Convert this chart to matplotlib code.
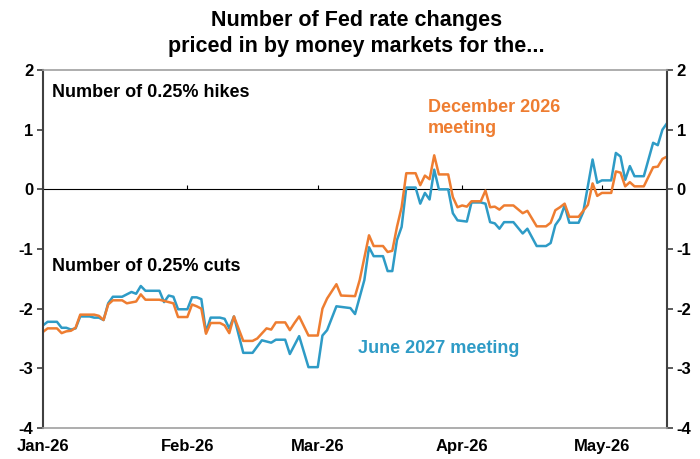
import pandas as pd
import matplotlib
matplotlib.use("Agg")
import matplotlib.pyplot as plt
import matplotlib.dates as mdates

plt.rcParams['font.family'] = ['Liberation Sans', 'DejaVu Sans']
plt.rcParams['font.weight'] = 'bold'
plt.rcParams['axes.unicode_minus'] = False

# June 2027 meeting (blue)
jun27_dates = [
    "2026-01-01", "2026-01-02", "2026-01-04", "2026-01-05", "2026-01-06", "2026-01-07",
    "2026-01-08", "2026-01-09", "2026-01-11", "2026-01-12", "2026-01-13", "2026-01-14",
    "2026-01-15", "2026-01-16", "2026-01-18", "2026-01-20", "2026-01-21", "2026-01-22",
    "2026-01-23", "2026-01-26", "2026-01-27", "2026-01-28", "2026-01-29", "2026-01-30",
    "2026-02-01", "2026-02-02", "2026-02-03", "2026-02-04", "2026-02-05", "2026-02-06",
    "2026-02-08", "2026-02-09", "2026-02-10", "2026-02-11", "2026-02-13", "2026-02-15",
    "2026-02-17", "2026-02-19", "2026-02-20", "2026-02-22", "2026-02-23", "2026-02-25",
    "2026-02-27", "2026-03-01", "2026-03-02", "2026-03-03", "2026-03-05", "2026-03-08",
    "2026-03-09", "2026-03-11", "2026-03-12", "2026-03-13", "2026-03-15", "2026-03-16",
    "2026-03-17", "2026-03-18", "2026-03-19", "2026-03-20", "2026-03-22", "2026-03-23",
    "2026-03-24", "2026-03-25", "2026-03-26", "2026-03-27", "2026-03-29", "2026-03-30",
    "2026-03-31", "2026-04-02", "2026-04-03", "2026-04-05", "2026-04-06", "2026-04-07",
    "2026-04-08", "2026-04-09", "2026-04-10", "2026-04-12", "2026-04-14", "2026-04-15",
    "2026-04-17", "2026-04-19", "2026-04-20", "2026-04-21", "2026-04-22", "2026-04-23",
    "2026-04-24", "2026-04-26", "2026-04-27", "2026-04-29", "2026-04-30", "2026-05-01",
    "2026-05-03", "2026-05-04", "2026-05-05", "2026-05-06", "2026-05-07", "2026-05-08",
    "2026-05-10", "2026-05-12", "2026-05-13", "2026-05-14", "2026-05-15",
]
jun27_values = [
    -2.28, -2.22, -2.22, -2.32, -2.32, -2.35,
    -2.33, -2.13, -2.13, -2.15, -2.15, -2.19,
    -1.91, -1.80, -1.80, -1.72, -1.75, -1.62,
    -1.70, -1.70, -1.89, -1.78, -1.80, -2.01,
    -2.01, -1.81, -1.81, -1.84, -2.39, -2.15,
    -2.15, -2.17, -2.33, -2.13, -2.74, -2.74,
    -2.53, -2.57, -2.52, -2.52, -2.76, -2.46,
    -2.98, -2.98, -2.45, -2.36, -1.96, -1.99,
    -2.09, -1.52, -0.97, -1.12, -1.12, -1.37,
    -1.37, -0.85, -0.63, 0.03, 0.03, -0.24,
    -0.06, -0.17, 0.33, 0.00, 0.00, -0.40,
    -0.52, -0.54, -0.22, -0.22, -0.24, -0.55,
    -0.57, -0.66, -0.55, -0.55, -0.74, -0.66,
    -0.95, -0.95, -0.90, -0.60, -0.49, -0.27,
    -0.56, -0.56, -0.38, 0.50, 0.11, 0.15,
    0.15, 0.61, 0.55, 0.16, 0.39, 0.22,
    0.22, 0.78, 0.74, 1.00, 1.11,
]

# December 2026 meeting (orange)
dec26_dates = [
    "2026-01-01", "2026-01-02", "2026-01-04", "2026-01-05", "2026-01-06", "2026-01-07",
    "2026-01-08", "2026-01-09", "2026-01-12", "2026-01-13", "2026-01-14", "2026-01-15",
    "2026-01-16", "2026-01-18", "2026-01-19", "2026-01-21", "2026-01-22", "2026-01-23",
    "2026-01-26", "2026-01-28", "2026-01-29", "2026-01-30", "2026-02-01", "2026-02-02",
    "2026-02-03", "2026-02-04", "2026-02-05", "2026-02-06", "2026-02-08", "2026-02-09",
    "2026-02-10", "2026-02-11", "2026-02-13", "2026-02-15", "2026-02-16", "2026-02-18",
    "2026-02-19", "2026-02-20", "2026-02-22", "2026-02-23", "2026-02-24", "2026-02-25",
    "2026-02-27", "2026-03-01", "2026-03-02", "2026-03-03", "2026-03-05", "2026-03-06",
    "2026-03-09", "2026-03-10", "2026-03-12", "2026-03-13", "2026-03-15", "2026-03-16",
    "2026-03-17", "2026-03-18", "2026-03-19", "2026-03-20", "2026-03-22", "2026-03-23",
    "2026-03-24", "2026-03-25", "2026-03-26", "2026-03-27", "2026-03-29", "2026-03-30",
    "2026-03-31", "2026-04-01", "2026-04-02", "2026-04-03", "2026-04-05", "2026-04-06",
    "2026-04-07", "2026-04-08", "2026-04-09", "2026-04-10", "2026-04-12", "2026-04-14",
    "2026-04-15", "2026-04-17", "2026-04-19", "2026-04-20", "2026-04-21", "2026-04-22",
    "2026-04-23", "2026-04-24", "2026-04-26", "2026-04-28", "2026-04-29", "2026-04-30",
    "2026-05-01", "2026-05-03", "2026-05-04", "2026-05-05", "2026-05-06", "2026-05-07",
    "2026-05-08", "2026-05-10", "2026-05-12", "2026-05-13", "2026-05-14", "2026-05-15",
]
dec26_values = [
    -2.39, -2.33, -2.33, -2.41, -2.38, -2.37,
    -2.32, -2.10, -2.10, -2.12, -2.19, -1.93,
    -1.86, -1.86, -1.91, -1.88, -1.76, -1.85,
    -1.85, -1.89, -1.91, -2.14, -2.14, -1.93,
    -1.96, -2.00, -2.42, -2.24, -2.24, -2.28,
    -2.41, -2.13, -2.54, -2.54, -2.50, -2.33,
    -2.35, -2.23, -2.23, -2.36, -2.24, -2.13,
    -2.45, -2.45, -2.00, -1.83, -1.59, -1.78,
    -1.79, -1.52, -0.77, -0.95, -0.95, -1.05,
    -1.03, -0.63, -0.30, 0.27, 0.27, 0.07,
    0.23, 0.17, 0.57, 0.25, 0.25, -0.13,
    -0.30, -0.27, -0.29, -0.20, -0.20, -0.02,
    -0.30, -0.29, -0.34, -0.27, -0.27, -0.40,
    -0.36, -0.62, -0.62, -0.56, -0.35, -0.30,
    -0.24, -0.46, -0.46, -0.26, 0.10, -0.11,
    -0.06, -0.06, 0.30, 0.28, 0.05, 0.12,
    0.05, 0.05, 0.37, 0.38, 0.51, 0.55,
]

ORANGE = "#EE7D31"
BLUE = "#2E9BC6"


def main() -> None:
    fig = plt.figure(figsize=(7, 4.59), dpi=100)
    ax = fig.add_axes([0.0614, 0.0675, 0.8916, 0.78])

    ax.plot(pd.to_datetime(jun27_dates), jun27_values, color=BLUE, lw=1.8)
    ax.plot(pd.to_datetime(dec26_dates), dec26_values, color=ORANGE, lw=1.8)

    ax.set_xlim(pd.Timestamp("2026-01-01"), pd.Timestamp("2026-05-15"))
    ax.set_ylim(-4, 2)
    ax.set_yticks(range(-4, 3))

    for side in ["left", "right"]:
        ax.spines[side].set_color("#404040")
        ax.spines[side].set_linewidth(1.5)
    for side in ["top", "bottom"]:
        ax.spines[side].set_color("#A0A0A0")
        ax.spines[side].set_linewidth(1.2)

    ax.xaxis.set_major_locator(mdates.MonthLocator())
    ax.xaxis.set_major_formatter(mdates.DateFormatter("%b-%y"))
    ax.tick_params(axis="x", length=0, pad=8, labelsize=12)
    ax.tick_params(axis="y", direction="out", length=4, width=1.2, color="#404040",
                   right=True, labelright=True, labelsize=12, pad=3)
    for lbl in ax.get_xticklabels() + ax.get_yticklabels():
        lbl.set_fontweight("bold")

    # zero line with small month ticks
    zero = ax.secondary_xaxis(4 / 6)
    zero.xaxis.set_major_locator(mdates.MonthLocator())
    zero.tick_params(axis="x", direction="out", length=3, labelbottom=False,
                     labeltop=False, color="black")
    zero.spines["bottom"].set_color("#333333")
    zero.spines["bottom"].set_linewidth(1.2)

    ax.text(0.015, 0.962, "Number of 0.25% hikes", transform=ax.transAxes,
            fontsize=13, fontweight="bold", va="top", ha="left")
    ax.text(0.015, 0.476, "Number of 0.25% cuts", transform=ax.transAxes,
            fontsize=13, fontweight="bold", va="top", ha="left")
    ax.text(0.617, 0.919, "December 2026\nmeeting", transform=ax.transAxes,
            fontsize=13, fontweight="bold", va="top", ha="left", color=ORANGE,
            linespacing=1.3)
    ax.text(0.505, 0.246, "June 2027 meeting", transform=ax.transAxes,
            fontsize=13, fontweight="bold", va="top", ha="left", color=BLUE)

    fig.suptitle("Number of Fed rate changes\npriced in by money markets for the...",
                 x=0.509, y=0.978, fontsize=15.5, fontweight="bold", linespacing=1.3)

    fig.savefig("out.png", dpi=100)


if __name__ == "__main__":
    main()
